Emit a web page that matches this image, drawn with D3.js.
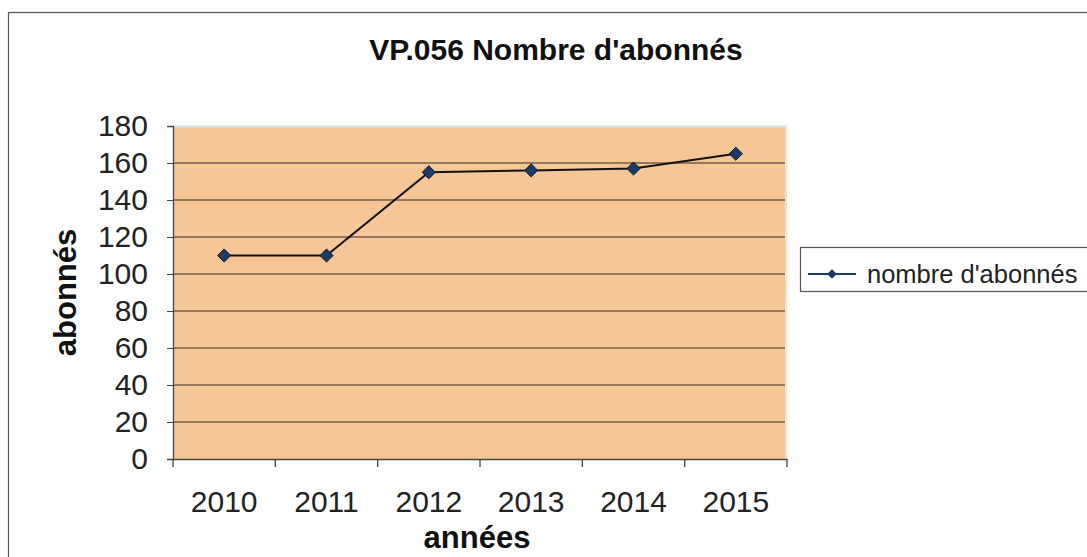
<!DOCTYPE html>
<html lang="fr">
<head>
<meta charset="UTF-8">
<title>VP.056 Nombre d'abonnés</title>
<style>
  body { margin: 0; background: #fff; }
  svg { display: block; font-family: "Liberation Sans", Arial, sans-serif; }
</style>
</head>
<body>
<div id="chart"></div>
<script src="https://cdn.jsdelivr.net/npm/d3@7"></script>
<script>
// données
var years = ['2010', '2011', '2012', '2013', '2014', '2015'];
var subscribers = [110, 110, 155, 156, 157, 165];
var yTicks = [0, 20, 40, 60, 80, 100, 120, 140, 160, 180];
var seriesName = "nombre d'abonnés";

var width = 1087, height = 557;
var plot = { left: 173, right: 787, top: 126, bottom: 459 };
var font = '"Liberation Sans", Arial, sans-serif';

var svg = d3.select('#chart').append('svg')
  .attr('width', width)
  .attr('height', height);

// cadre extérieur
svg.append('rect')
  .attr('x', 8.5).attr('y', 12.5)
  .attr('width', 1200).attr('height', 600)
  .attr('fill', 'none')
  .attr('stroke', '#555')
  .attr('stroke-width', 1.2);

var x = d3.scaleBand().domain(years).range([plot.left, plot.right]);
var y = d3.scaleLinear().domain([0, 180]).range([plot.bottom, plot.top]);

// fond de la zone de tracé
svg.append('rect')
  .attr('x', plot.left).attr('y', plot.top)
  .attr('width', plot.right - plot.left)
  .attr('height', plot.bottom - plot.top)
  .attr('fill', '#f7c697');

svg.append('line')
  .attr('x1', plot.left).attr('x2', plot.right)
  .attr('y1', plot.top + 0.5).attr('y2', plot.top + 0.5)
  .attr('stroke', '#cfe0e8').attr('stroke-width', 2);
svg.append('line')
  .attr('x1', plot.right - 1).attr('x2', plot.right - 1)
  .attr('y1', plot.top).attr('y2', plot.bottom)
  .attr('stroke', '#f2e6d6').attr('stroke-width', 1.5);

// quadrillage
svg.append('g')
  .selectAll('line')
  .data(yTicks.filter(function (d) { return d > 0 && d < 180; }))
  .enter().append('line')
  .attr('x1', plot.left).attr('x2', plot.right - 2)
  .attr('y1', function (d) { return y(d); })
  .attr('y2', function (d) { return y(d); })
  .attr('stroke', '#3a2a22')
  .attr('stroke-width', 1.2);

// axe Y
var yAxis = svg.append('g')
  .attr('transform', 'translate(' + plot.left + ',0)')
  .call(d3.axisLeft(y).tickValues(yTicks).tickSize(6).tickPadding(19));
yAxis.select('.domain').attr('stroke', '#444').attr('stroke-width', 1.3);
yAxis.selectAll('.tick line').attr('stroke', '#444');
yAxis.selectAll('text')
  .attr('font-size', 30)
  .attr('fill', '#222')
  .attr('font-family', font);

// axe X
var xAxis = svg.append('g')
  .attr('transform', 'translate(0,' + plot.bottom + ')')
  .call(d3.axisBottom(x).tickSize(0).tickPadding(32));
xAxis.select('.domain').attr('stroke', '#444').attr('stroke-width', 1.3);
xAxis.selectAll('text')
  .attr('font-size', 30)
  .attr('fill', '#222')
  .attr('font-family', font);

// graduations entre les catégories
var xTickPos = years.map(function (d) { return x(d); }).concat([x(years[years.length - 1]) + x.bandwidth()]);
svg.append('g')
  .selectAll('line')
  .data(xTickPos)
  .enter().append('line')
  .attr('x1', function (d) { return d; }).attr('x2', function (d) { return d; })
  .attr('y1', plot.bottom).attr('y2', plot.bottom + 8)
  .attr('stroke', '#444').attr('stroke-width', 1.3);

// série
var cx = function (d, i) { return x(years[i]) + x.bandwidth() / 2; };
var line = d3.line()
  .x(function (d, i) { return cx(d, i); })
  .y(function (d) { return y(d); });

svg.append('path')
  .datum(subscribers)
  .attr('d', line)
  .attr('fill', 'none')
  .attr('stroke', '#111')
  .attr('stroke-width', 2);

var diamond = d3.symbol().type(d3.symbolDiamond2).size(110);
svg.append('g')
  .selectAll('path')
  .data(subscribers)
  .enter().append('path')
  .attr('d', diamond)
  .attr('transform', function (d, i) { return 'translate(' + cx(d, i) + ',' + y(d) + ')'; })
  .attr('fill', '#1d3a66')
  .attr('stroke', '#0d1a33')
  .attr('stroke-width', 1);

// titres
svg.append('text')
  .attr('x', 556).attr('y', 60)
  .attr('text-anchor', 'middle')
  .attr('font-size', 30).attr('font-weight', 'bold')
  .attr('fill', '#111')
  .text("VP.056 Nombre d'abonnés");

svg.append('text')
  .attr('x', 477).attr('y', 548)
  .attr('text-anchor', 'middle')
  .attr('font-size', 31).attr('font-weight', 'bold')
  .attr('fill', '#111')
  .text('années');

svg.append('text')
  .attr('transform', 'translate(76,' + ((plot.top + plot.bottom) / 2) + ') rotate(-90)')
  .attr('text-anchor', 'middle')
  .attr('font-size', 31).attr('font-weight', 'bold')
  .attr('fill', '#111')
  .text('abonnés');

// légende
var legend = svg.append('g').attr('transform', 'translate(800,247)');
legend.append('rect')
  .attr('x', 0.5).attr('y', 0.5)
  .attr('width', 400).attr('height', 44)
  .attr('fill', '#fff')
  .attr('stroke', '#555').attr('stroke-width', 1.2);
legend.append('line')
  .attr('x1', 8).attr('x2', 56)
  .attr('y1', 27).attr('y2', 27)
  .attr('stroke', '#1d3a66').attr('stroke-width', 2);
legend.append('path')
  .attr('d', d3.symbol().type(d3.symbolDiamond2).size(60))
  .attr('transform', 'translate(32,27)')
  .attr('fill', '#1d3a66');
legend.append('text')
  .attr('x', 67).attr('y', 36)
  .attr('font-size', 25.5)
  .attr('fill', '#222')
  .text(seriesName);
</script>
</body>
</html>
